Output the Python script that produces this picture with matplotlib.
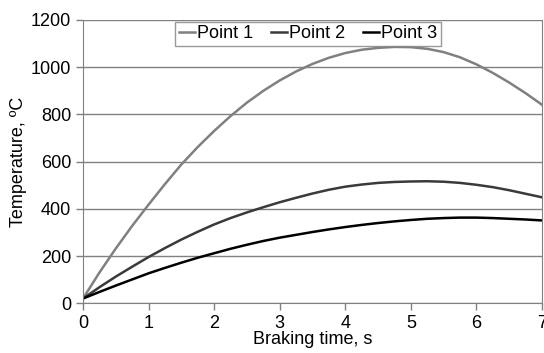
import matplotlib.pyplot as plt

plt.rcParams['font.family'] = ['Liberation Sans', 'DejaVu Sans']

t = [0, 0.25, 0.5, 0.75, 1, 1.25, 1.5, 1.75, 2, 2.25, 2.5, 2.75, 3, 3.25, 3.5,
     3.75, 4, 4.25, 4.5, 4.75, 5, 5.25, 5.5, 5.75, 6, 6.25, 6.5, 6.75, 7]
point1 = [20, 130, 232, 328, 418, 505, 588, 662, 730, 793, 850, 900, 944, 982, 1014,
          1040, 1060, 1074, 1082, 1086, 1085, 1078, 1064, 1042, 1012, 976, 935, 890, 841]
point2 = [20, 68, 113, 155, 196, 234, 270, 303, 334, 361, 385, 407, 428, 447, 465,
          481, 494, 503, 510, 514, 516, 517, 515, 510, 502, 492, 479, 464, 449]
point3 = [20, 48, 75, 101, 127, 150, 172, 193, 212, 231, 248, 264, 278, 290, 302,
          313, 323, 332, 340, 347, 353, 358, 361, 363, 363, 361, 358, 355, 351]

fig = plt.figure(figsize=(5.44, 3.53), dpi=100)
ax = fig.add_axes([83/544, 49.7/353, 459/544, 283.3/353])

ax.plot(t, point1, color='#808080', lw=1.8, label='Point 1')
ax.plot(t, point2, color='#3a3a3a', lw=1.8, label='Point 2')
ax.plot(t, point3, color='#000000', lw=1.8, label='Point 3')

ax.set_xlim(0, 7)
ax.set_ylim(0, 1200)
ax.set_xticks(range(0, 8))
ax.set_yticks(range(0, 1201, 200))
ax.grid(axis='y', color='#808080', lw=1)
ax.set_axisbelow(True)
for s in ['left', 'bottom', 'right']:
    ax.spines[s].set_color('#808080')
ax.spines['top'].set_visible(False)
ax.tick_params(colors='#808080', labelcolor='black', labelsize=13, length=5, width=1)

ax.set_xlabel('Braking time, s', fontsize=13, labelpad=-1)
ax.set_ylabel('Temperature, ºC', fontsize=13, labelpad=3)

leg = ax.legend(loc='upper center', bbox_to_anchor=(0.49, 1.0), ncol=3, fontsize=13,
                frameon=True, fancybox=False, handlelength=0.9, handletextpad=0.1,
                columnspacing=1.0, borderpad=0.2, borderaxespad=0.1)
leg.get_frame().set_edgecolor('#808080')
leg.get_frame().set_linewidth(1)

fig.savefig('out.png', dpi=100)
